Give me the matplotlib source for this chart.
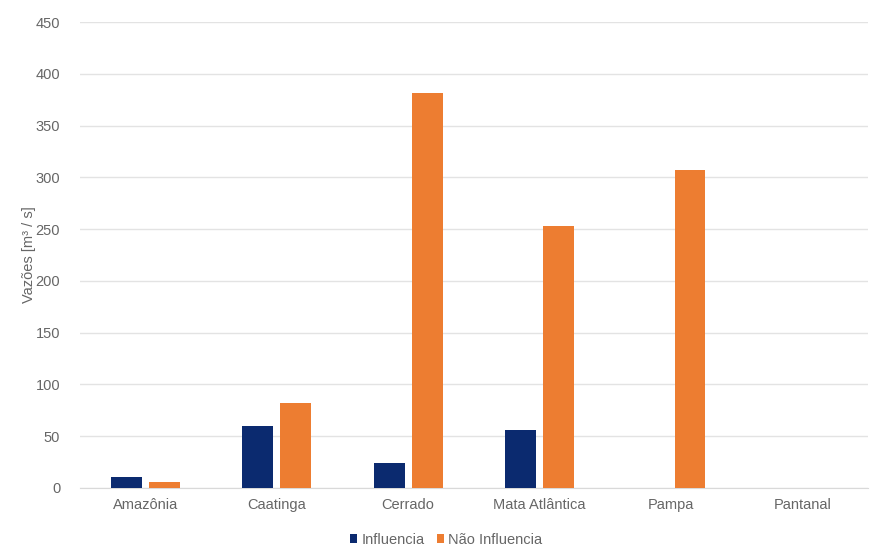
import matplotlib.pyplot as plt
import numpy as np

categorias = ["Amazônia", "Caatinga", "Cerrado", "Mata Atlântica", "Pampa", "Pantanal"]
influencia = [10.5, 60, 24, 56, 0, 0]
nao_influencia = [6, 82, 381, 253, 307, 0]
yticks = [0, 50, 100, 150, 200, 250, 300, 350, 400, 450]

cor_inf = "#0b2a6f"
cor_nao = "#ed7d31"
cinza = "#666666"

plt.rcParams['font.family'] = ['Liberation Sans', 'DejaVu Sans']

fig = plt.figure(figsize=(8.75, 5.5), dpi=100)
ax = fig.add_axes([0.091, 0.113, 0.901, 0.847])

x = np.arange(len(categorias))
w = 0.235
off = 0.145
ax.bar(x - off, influencia, w, color=cor_inf, label="Influencia", zorder=3)
ax.bar(x + off, nao_influencia, w, color=cor_nao, label="Não Influencia", zorder=3)

ax.set_xlim(-0.5, len(categorias) - 0.5)
ax.set_ylim(0, 450)
ax.set_yticks(yticks)
ax.set_xticks(x)
ax.set_xticklabels(categorias, fontsize=10.5, color=cinza)
ax.tick_params(axis="y", labelsize=10.5, labelcolor=cinza, length=0, pad=14)
ax.tick_params(axis="x", length=0, pad=7)
ax.grid(axis="y", color="#e3e3e3", linewidth=1, zorder=0)
for s in ["top", "right", "left"]:
    ax.spines[s].set_visible(False)
ax.spines["bottom"].set_color("#d9d9d9")

ax.set_ylabel("Vazões [m³ / s]", fontsize=10.5, color=cinza, labelpad=0)

fig.legend(loc="lower center", bbox_to_anchor=(0.51, -0.018), ncol=2, frameon=False,
           fontsize=10.5, labelcolor=cinza, handlelength=0.5, handleheight=0.5,
           handletextpad=0.3, columnspacing=0.8)

fig.savefig("out.png", dpi=100)
